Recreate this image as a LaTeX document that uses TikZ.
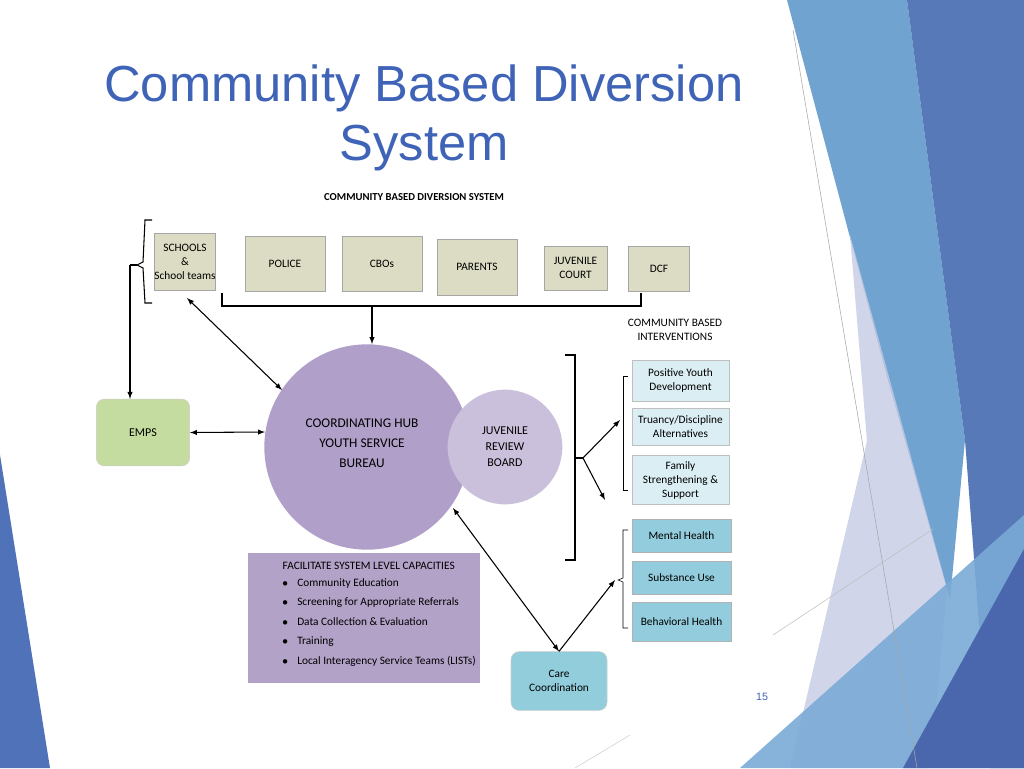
\documentclass[tikz,border=0pt]{standalone}
\usepackage{fontspec}
\setmainfont{Carlito}
\newfontfamily\titlefont{Liberation Sans}
\definecolor{bgA}{RGB}{79,114,184}
\definecolor{bgB}{RGB}{106,159,206}
\definecolor{bgC}{RGB}{79,114,181}
\definecolor{bgD}{RGB}{197,203,228}
\definecolor{bgE}{RGB}{122,170,214}
\definecolor{bgF}{RGB}{74,103,174}
\definecolor{topc}{RGB}{220,220,196}
\definecolor{cbic}{RGB}{219,238,244}
\definecolor{mhc}{RGB}{147,205,221}
\definecolor{titc}{RGB}{63,99,183}
\definecolor{empc}{RGB}{197,220,160}
\definecolor{hubc}{RGB}{176,159,200}
\definecolor{jrbc}{RGB}{203,192,220}
\definecolor{carec}{RGB}{146,205,220}
\definecolor{facc}{RGB}{178,162,199}
\begin{document}
\begin{tikzpicture}[x=0.75pt,y=-0.75pt,
  top/.style={draw=gray!70,fill=topc,font=\fontsize{8.5}{10.5}\selectfont,align=center,inner sep=0pt},
  cbi/.style={draw=gray!50,fill=cbic,font=\fontsize{8.5}{10.5}\selectfont,align=center,inner sep=0pt},
  mh/.style={draw=gray!60,fill=mhc,font=\fontsize{8.5}{10.5}\selectfont,align=center,inner sep=0pt},
  arr/.style={-latex,thick},
  darr/.style={latex-latex,thick}]
\useasboundingbox (0,0) rectangle (1024,768);
\fill[white] (0,0) rectangle (1024,768);
% background decoration
\fill[bgA] (0,455) -- (50,768) -- (0,768) -- cycle;
\fill[bgB,opacity=.95] (787,0) -- (907,0) -- (965,440) -- (950,600) -- (887,377) -- cycle;
\fill[bgC,opacity=.95] (907,0) -- (1024,0) -- (1024,768) -- (990,768) -- (965,440) -- cycle;
\fill[bgD,opacity=.8] (850,235) -- (947,588) -- (930,768) -- (790,768) -- (867,441) -- cycle;
\fill[bgE,opacity=.9] (740,768) -- (1024,515) -- (1024,768) -- cycle;
\fill[bgF] (903,768) -- (1024,549) -- (1024,768) -- cycle;
\draw[gray!70,thin] (793,30) -- (917,768);
\draw[gray!50,thin] (773,635) -- (933,529);
\draw[gray!40,thin] (575,768) -- (630,735);
% titles
\node[font=\titlefont\fontsize{38}{44}\selectfont,text=titc,align=center] (title) at (424,118) {Community Based Diversion\\System};
\node[font=\fontsize{8}{9}\selectfont\bfseries] (sub) at (414,197) {COMMUNITY BASED DIVERSION SYSTEM};
\node[font=\titlefont\fontsize{8}{9}\selectfont,text=titc] (pg) at (762,697) {15};
% top boxes
\node[top,minimum width=45pt,minimum height=43pt] (schools) at (185,262) {SCHOOLS\\\&\\School teams};
\node[top,minimum width=60pt,minimum height=41pt] (police) at (285,264) {POLICE};
\node[top,minimum width=60pt,minimum height=41pt] (cbos) at (382,264) {CBOs};
\node[top,minimum width=60pt,minimum height=42pt] (parents) at (477,267) {PARENTS};
\node[top,minimum width=47pt,minimum height=33pt] (jc) at (575.5,268) {JUVENILE\\COURT};
\node[top,minimum width=46pt,minimum height=34pt] (dcf) at (659,268.5) {DCF};
% left bracket
\draw[thick] (152,220) -- (145,220) -- (143,262) -- (137,265) -- (143,268) -- (145,303) -- (152,303);
\coordinate (lb) at (130,265);
\draw[thick] (137,265) -- (lb);
% EMPS
\node[draw=gray!40,fill=empc,rounded corners=6pt,minimum width=70pt,minimum height=50pt,font=\fontsize{9}{10.5}\selectfont] (emps) at (143,432.5) {EMPS};
\draw[arr] (lb) -- (emps.north -| lb);
% bottom bracket
\draw[thick] (222,293) -- (222,306) -- (641,306) -- (641,293);
\coordinate (bm) at (372,306);
% circles
\node[circle,fill=hubc,minimum size=154pt,inner sep=0pt] (hub) at (367,447) {};
\node[circle,fill=jrbc,minimum size=86pt,inner sep=0pt,font=\fontsize{9}{12}\selectfont,align=center] (jrb) at (505,447) {JUVENILE\\REVIEW\\BOARD};
\node[font=\fontsize{10}{15}\selectfont,align=center] (hubt) at (362,443) {COORDINATING HUB\\YOUTH SERVICE\\BUREAU};
\draw[arr] (bm) -- (hub.north -| bm);
\draw[darr] (187,298) -- (282,390);
\draw[darr] (emps.east) -- (265,432);
% big bracket
\draw[thick] (565,355) -- (575,355) -- (575,560) -- (565,560);
\coordinate (bb) at (583,458);
\draw[thick] (575,458) -- (bb);
% interventions
\node[font=\fontsize{8.5}{11}\selectfont,align=center] (cbil) at (675,330) {COMMUNITY BASED\\INTERVENTIONS};
\node[cbi,minimum width=73pt,minimum height=31pt] (pyd) at (680.5,380.5) {Positive Youth\\Development};
\node[cbi,minimum width=73pt,minimum height=28pt] (tru) at (680.5,427) {Truancy/Discipline\\Alternatives};
\node[cbi,minimum width=73pt,minimum height=37pt] (fam) at (680.5,480) {Family\\Strengthening \&\\Support};
\draw[thin] (628,376) -- (623,376) -- (623,490) -- (628,490);
\draw[arr] (bb) -- (620,420);
\draw[arr] (bb) -- (605,500);
\node[mh,minimum width=74pt,minimum height=25pt] (ment) at (681.5,535.5) {Mental Health};
\node[mh,minimum width=74pt,minimum height=25pt] (subs) at (681.5,577.5) {Substance Use};
\node[mh,minimum width=74pt,minimum height=29pt] (beh) at (681.5,621.5) {Behavioral Health};
\draw[thin] (628,530) -- (623,530) -- (623,578) -- (618,580) -- (623,582) -- (623,628) -- (628,628);
\coordinate (mb) at (615,580);
% care coordination
\node[draw=gray!40,fill=carec,rounded corners=6pt,minimum width=72pt,minimum height=44pt,font=\fontsize{8.5}{11}\selectfont,align=center] (care) at (559,681) {Care\\Coordination};
\draw[darr] (453,508) -- (care.north);
\draw[arr] (care.north) -- (mb);
% facilitate box
\node[fill=facc,minimum width=174pt,minimum height=97.5pt,inner sep=0pt] (fac) at (364,618) {};
\node[font=\fontsize{8.5}{10}\selectfont,anchor=west] (fact) at (278,566) {FACILITATE SYSTEM LEVEL CAPACITIES};
\node[font=\fontsize{8.5}{14.7}\selectfont,anchor=north west,align=left,inner sep=0pt] (facl) at (282,578)
 {$\bullet$\hspace{7pt}Community Education\\$\bullet$\hspace{7pt}Screening for Appropriate Referrals\\$\bullet$\hspace{7pt}Data Collection \& Evaluation\\$\bullet$\hspace{7pt}Training\\$\bullet$\hspace{7pt}Local Interagency Service Teams (LISTs)};
\end{tikzpicture}
\end{document}
